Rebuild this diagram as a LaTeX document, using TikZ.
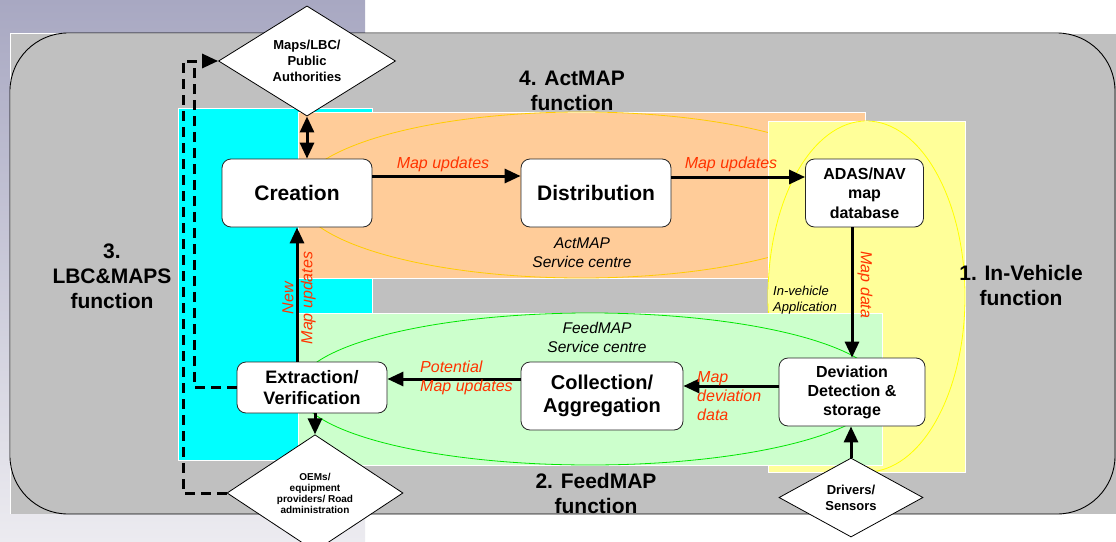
\documentclass[tikz,border=0pt]{standalone}
\usepackage{fontspec}
\setmainfont{Liberation Sans}
\usetikzlibrary{shapes.geometric,arrows.meta,calc}
\definecolor{bggray}{RGB}{192,192,192}
\definecolor{cyanfill}{RGB}{0,255,255}
\definecolor{orangefill}{RGB}{255,204,153}
\definecolor{yellowfill}{RGB}{255,255,153}
\definecolor{greenfill}{RGB}{204,255,204}
\definecolor{lblred}{RGB}{255,51,0}
\definecolor{lavtop}{RGB}{168,168,194}
\definecolor{lavbot}{RGB}{236,235,240}
\definecolor{ellorange}{RGB}{255,204,0}
\definecolor{ellgreen}{RGB}{0,230,0}
\definecolor{ellyellow}{RGB}{255,255,0}
\begin{document}
\begin{tikzpicture}[x=1pt,y=-1pt,
  box/.style={draw=black!85,line width=0.8pt,fill=white,rounded corners=9pt,inner sep=0pt,align=center},
  dia/.style={draw=black,line width=0.8pt,fill=white,shape=diamond,inner sep=0pt,align=center,font=\bfseries\fontsize{13}{16}\selectfont},
  arr/.style={line width=3pt,-{Triangle[length=16pt,width=14pt]}},
  darr/.style={line width=3pt,{Triangle[length=16pt,width=14pt]}-{Triangle[length=16pt,width=14pt]}},
  dashline/.style={line width=3pt,dash pattern=on 10pt off 6pt},
  redlbl/.style={text=lblred,font=\itshape\fontsize{16}{19}\selectfont,inner sep=0pt},
  func/.style={font=\bfseries\fontsize{21}{25}\selectfont,align=center,inner sep=0pt},
  svc/.style={font=\itshape\fontsize{15.5}{19}\selectfont,align=center,inner sep=0pt},
  region/.style={draw=white,line width=0.8pt}
]
\useasboundingbox (0,0) rectangle (1116,541);
\clip (0,0) rectangle (1116,541);
% background
\fill[white] (0,0) rectangle (1116,541);
\shade[top color=lavtop,bottom color=lavbot] (0,0) rectangle (365,541);
\fill[bggray] (10,33) rectangle (1116,514);
\draw[white,line width=0.6pt] (10,514) -- (10,33) -- (1116,33);
\draw[black,line width=0.9pt,rounded corners=58pt] (10,33) rectangle (1115,514);
% coloured regions
\filldraw[region,fill=cyanfill] (178,108) rectangle (372,460);
\filldraw[region,fill=orangefill] (298,112) rectangle (865,278);
\draw[ellorange,line width=0.8pt] (581.5,195) ellipse [x radius=283.5pt,y radius=83pt];
\filldraw[region,fill=yellowfill] (768,121) rectangle (965,472);
\draw[ellyellow,line width=0.8pt] (866.5,296.5) ellipse [x radius=98.5pt,y radius=175.5pt];
\filldraw[region,fill=greenfill] (298,313) rectangle (882,465);
\draw[ellgreen,line width=0.8pt] (590,389) ellipse [x radius=292pt,y radius=76pt];
% function labels
\node[func] (f4) at (572,91) {4. ActMAP\\function};
\node[func] (f3) at (112,276) {3.\\LBC\&MAPS\\function};
\node[func] (f1) at (1021,285) {1. In-Vehicle\\function};
\node[func] (f2) at (596,493) {2. FeedMAP\\function};
\node[svc] (s4) at (582,253) {ActMAP\\Service centre};
\node[svc] (s2) at (597,337) {FeedMAP\\Service centre};
\node[font=\itshape\fontsize{13}{16}\selectfont,align=left,inner sep=0pt,anchor=west] (iva) at (773,300) {In-vehicle\\Application};
% boxes
\node[box,minimum width=150pt,minimum height=68pt,font=\bfseries\fontsize{21}{25}\selectfont] (cre) at (297,193) {Creation};
\node[box,minimum width=150pt,minimum height=68pt,font=\bfseries\fontsize{21}{25}\selectfont] (dis) at (596,193) {Distribution};
\node[box,minimum width=118pt,minimum height=68pt,font=\bfseries\fontsize{16}{19.5}\selectfont] (adas) at (864.5,193) {ADAS/NAV\\map\\database};
\node[box,minimum width=150pt,minimum height=51pt,font=\bfseries\fontsize{18}{21}\selectfont] (ext) at (312,387.5) {Extraction/\\Verification};
\node[box,minimum width=162pt,minimum height=68pt,font=\bfseries\fontsize{20}{23}\selectfont] (col) at (602,396) {Collection/\\Aggregation};
\node[box,minimum width=146pt,minimum height=68pt,font=\bfseries\fontsize{16}{19}\selectfont] (dev) at (852,392) {Deviation\\Detection \&\\storage};
% diamonds
\node[dia,minimum width=177pt,minimum height=103pt] (maps) at (307,61) {Maps/LBC/\\Public\\Authorities};
\node[dia,minimum width=176pt,minimum height=102pt,font=\bfseries\fontsize{10}{11}\selectfont] (oem) at (315,493) {OEMs/\\equipment\\providers/ Road\\administration};
\node[dia,minimum width=144pt,minimum height=79pt] (drv) at (851,497.5) {Drivers/\\Sensors};
% dashed connectors
\coordinate (dA) at (194,61);
\coordinate (dB) at (183,61);
\draw[dashline] (ext.west) -| (dA);
\draw[dashline] (oem.west) -| (dB) -- (maps.west);
\draw[line width=3pt,-{Triangle[length=16pt,width=14pt]}] (dA) ++(12,0) coordinate (dC) (dC) -- (maps.west);
% arrows
\draw[darr] (maps.south) -- (maps.south |- cre.north);
\coordinate (a1) at ($(cre.east)+(0,-17)$);
\draw[arr] (a1) -- (a1 -| dis.west);
\coordinate (a2) at ($(dis.east)+(0,-16)$);
\draw[arr] (a2) -- (a2 -| adas.west);
\draw[arr] (adas.south -| dev.north) -- (dev.north);
\coordinate (a3) at ($(dev.west)+(0,-6)$);
\draw[arr] (a3) -- (a3 -| col.east);
\coordinate (a4) at ($(col.west)+(0,-17)$);
\draw[arr] (a4) -- (a4 -| ext.east);
\draw[arr] (ext.north -| cre.south) -- (cre.south);
\draw[arr] (ext.south -| oem.north) -- (oem.north);
\draw[arr] (drv.north) -- (drv.north |- dev.south);
% red labels
\node[redlbl] (l1) at (443,164) {Map updates};
\node[redlbl] (l2) at (731,164) {Map updates};
\node[redlbl,rotate=-90] (l3) at (865,285) {Map data};
\node[redlbl,align=left,anchor=west] (l4) at (697,396) {Map\\deviation\\data};
\node[redlbl,align=left,anchor=west] (l5) at (420,378) {Potential\\Map updates};
\node[redlbl,align=center,rotate=90] (l6) at (299,298) {New\\Map updates};
\end{tikzpicture}
\end{document}
